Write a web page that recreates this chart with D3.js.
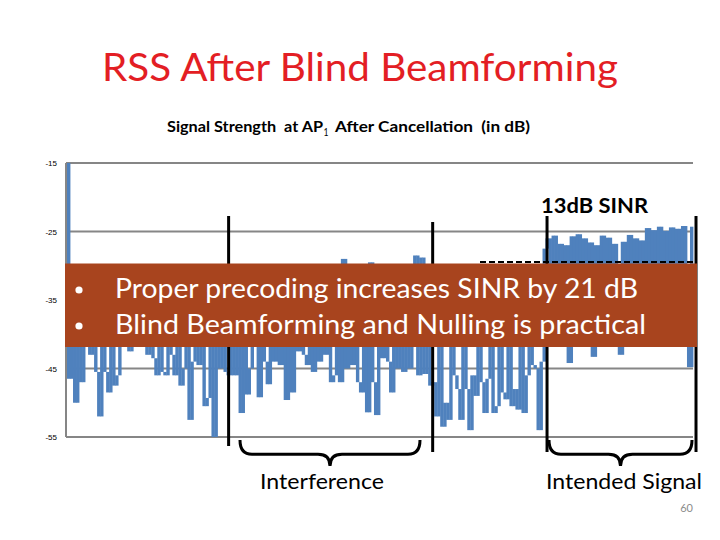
<!DOCTYPE html>
<html>
<head>
<meta charset="utf-8">
<script src="https://cdn.jsdelivr.net/npm/d3@7"></script>
<style>
  body { margin: 0; background: #fff; }
  svg { display: block; }
  text { white-space: pre; }
</style>
</head>
<body>
<script>
// y axis ticks (dB)
const yTicks = [-15, -25, -35, -45, -55];

// signal strength samples
const ssLead = [-15, -46.5, -38, -50, -39, -47, -38, -41, -43, -40.5,
  -45.5, -52, -40.5, -45.5, -48.5, -40.5, -47.5, -46, -38, -40,
  -37, -42.5, -38, -41, -37, -40.5, -38, -43, -40, -43.5,
  -46, -40.5, -45.5, -46, -40.5, -43, -46, -40.5, -47.5, -45,
  -40.5, -52.5, -44, -40.5, -44.5, -39, -50.5, -49.3, -40, -55,
  -40.5, -45, -40.5, -45.5];
const ssInterference = [-46, -40.5, -46, -40.5, -51.5, -41, -48.8, -45, -40, -41,
  -49.2, -40.5, -44, -47.3, -40.5, -44, -40, -44.5, -38, -49.6,
  -40.5, -48.5, -40, -42.5, -40, -43, -44.5, -40.5, -45.5, -40.5,
  -44, -40, -43, -40.5, -47, -46, -40.5, -47, -29, -45,
  -40.5, -44.5, -40, -47, -48.5, -40.5, -51.4, -29.5, -47, -51.8,
  -40.5, -43.5, -40, -44, -48.5, -40.5, -45, -40, -45.5, -40.5,
  -45, -40.5, -28.5, -46, -28.8, -45.8, -40.5, -47.5];
const ssGap = [-47, -52, -41.5, -53.5, -50, -52.5, -41.5, -46, -48, -52.5,
  -41.5, -48, -54, -46, -49, -41.5, -47, -51.5, -46.5, -41.5,
  -51.5, -50.5, -41.5, -48.5, -49.5, -41.5, -50.5, -48, -51, -41.5,
  -51.5, -46, -41.5, -44.5, -45, -54, -44, -27.5];
const ssIntended = [-26, -30.5, -25.6, -31, -26.8, -30.5, -27, -44.2, -25.7, -30.5,
  -25.4, -31, -26, -30.5, -26.6, -43.3, -27, -30.5, -25.6, -31,
  -25.9, -30.5, -26.8, -30.5, -43, -26.5, -31, -25.5, -30.5, -26,
  -30.5, -26.3, -31, -24.5, -30.5, -24.8, -30.5, -24.3, -31, -24.9,
  -30.5, -24.4, -30.5, -24.6, -31, -24.2, -30.5, -44.8, -24.3];

const signal = ssLead.concat(ssInterference, ssGap, ssIntended);

// section marker positions (sample index) and their annotations
const markerIdx = [53.7, 121.5, 159.5, 209];
const braceLabels = ["Interference", "Intended Signal"];

const w = 720;
const h = 540;

const svg = d3.select("body")
  .append("svg")
  .attr("width", w)
  .attr("height", h);

const x = d3.scaleLinear()
  .domain([0, signal.length - 1])
  .range([67, 693]);

const y = d3.scaleLinear()
  .domain([-55, -15])
  .range([437, 163]);

const calibri = "Lato, 'Open Sans', sans-serif";

// title
svg.append("text")
  .attr("x", 102).attr("y", 81)
  .attr("textLength", 516).attr("lengthAdjust", "spacingAndGlyphs")
  .style("font-family", calibri)
  .style("font-size", "39px")
  .style("fill", "#E31E24")
  .text("RSS After Blind Beamforming");

// chart subtitle, split so the subscript sits right
const subParts = [
  {t: "Signal Strength  at AP", x: 167, w: 156, size: 15.5, dy: 0, bold: true},
  {t: "1", x: 323.5, w: 5, size: 11, dy: 4, bold: false},
  {t: "After Cancellation  (in dB)", x: 335, w: 195, size: 15.5, dy: 0, bold: true}
];
subParts.forEach(function(p) {
  svg.append("text")
    .attr("x", p.x).attr("y", 132 + p.dy)
    .attr("textLength", p.w).attr("lengthAdjust", "spacingAndGlyphs")
    .style("font-family", calibri)
    .style("font-size", p.size + "px")
    .style("font-weight", p.bold ? "bold" : "normal")
    .text(p.t);
});

// gridlines
svg.append("g")
  .selectAll("line")
  .data(yTicks)
  .enter()
  .append("line")
  .attr("x1", 66).attr("x2", 693)
  .attr("y1", d => y(d)).attr("y2", d => y(d))
  .attr("stroke", "#868686")
  .attr("stroke-width", 2);

// y axis line
svg.append("line")
  .attr("x1", 66).attr("x2", 66)
  .attr("y1", y(-15)).attr("y2", y(-55))
  .attr("stroke", "#868686")
  .attr("stroke-width", 2);

// tick labels
svg.append("g")
  .selectAll("text")
  .data(yTicks)
  .enter()
  .append("text")
  .attr("x", 57)
  .attr("y", d => y(d) + 3)
  .attr("text-anchor", "end")
  .style("font-family", "'Liberation Sans', Arial, sans-serif")
  .style("font-size", "8px")
  .style("fill", "#000")
  .text(d => d);

// the trace is so dense in the original that each step fills the range
// between two neighbouring samples, so draw every segment as its own band
const segs = d3.pairs(signal).map((p, i) => ({i: i, hi: Math.max(p[0], p[1]), lo: Math.min(p[0], p[1])}));

svg.append("g")
  .selectAll("rect")
  .data(segs)
  .enter()
  .append("rect")
  .attr("x", d => x(d.i))
  .attr("width", d => x(d.i + 1) - x(d.i) + 0.4)
  .attr("y", d => y(d.hi))
  .attr("height", d => Math.max(1.5, y(d.lo) - y(d.hi)))
  .attr("fill", "#4F81BD");

// dashed level line (mostly under the box)
svg.append("line")
  .attr("x1", 480).attr("x2", 693)
  .attr("y1", 262).attr("y2", 262)
  .attr("stroke", "#000")
  .attr("stroke-width", 2)
  .attr("stroke-dasharray", "6,3");

// vertical section markers
const markerTop = [216, 222, 216, 216];
const markerBottom = [446, 452, 452, 452];
svg.append("g")
  .selectAll("line")
  .data(markerIdx)
  .enter()
  .append("line")
  .attr("x1", d => x(d)).attr("x2", d => x(d))
  .attr("y1", (d, i) => markerTop[i])
  .attr("y2", (d, i) => markerBottom[i])
  .attr("stroke", "#000")
  .attr("stroke-width", 3);

// 13dB SINR label
svg.append("text")
  .attr("x", 541).attr("y", 213)
  .attr("textLength", 107).attr("lengthAdjust", "spacingAndGlyphs")
  .style("font-family", calibri)
  .style("font-size", "20px")
  .style("font-weight", "bold")
  .text("13dB SINR");

// text box
svg.append("rect")
  .attr("x", 65).attr("y", 263.5)
  .attr("width", 632).attr("height", 83.5)
  .attr("fill", "#A8441E");

const bullets = [
  "Proper precoding increases SINR by 21 dB",
  "Blind Beamforming and Nulling is practical"
];
const bulletWidths = [523, 531];
bullets.forEach(function(t, i) {
  svg.append("circle")
    .attr("cx", 79).attr("cy", 290 + i * 36)
    .attr("r", 3.6)
    .attr("fill", "#fff");
  svg.append("text")
    .attr("x", 115).attr("y", 298 + i * 36)
    .attr("textLength", bulletWidths[i]).attr("lengthAdjust", "spacingAndGlyphs")
    .style("font-family", calibri)
    .style("font-size", "27px")
    .style("fill", "#fff")
    .text(t);
});

// braces under the sections
function brace(x0, x1, top, depth) {
  const mid = (x0 + x1) / 2;
  const q = depth * 0.55;
  return "M" + x0 + "," + top +
    " Q" + x0 + "," + (top + q) + " " + (x0 + 12) + "," + (top + q) +
    " L" + (mid - 12) + "," + (top + q) +
    " Q" + mid + "," + (top + q) + " " + mid + "," + (top + depth) +
    " Q" + mid + "," + (top + q) + " " + (mid + 12) + "," + (top + q) +
    " L" + (x1 - 12) + "," + (top + q) +
    " Q" + x1 + "," + (top + q) + " " + x1 + "," + top;
}
const braceSpans = [[240, 420], [549, 692]];
svg.append("g")
  .selectAll("path")
  .data(braceSpans)
  .enter()
  .append("path")
  .attr("d", d => brace(d[0], d[1], 440, 26))
  .attr("fill", "none")
  .attr("stroke", "#000")
  .attr("stroke-width", 3);

const labelX = [322, 624];
const labelW = [124, 156];
braceLabels.forEach(function(t, i) {
  svg.append("text")
    .attr("x", labelX[i] - labelW[i] / 2).attr("y", 489)
    .attr("textLength", labelW[i]).attr("lengthAdjust", "spacingAndGlyphs")
    .style("font-family", calibri)
    .style("font-size", "21px")
    .style("fill", "#000")
    .text(t);
});

// slide number
svg.append("text")
  .attr("x", 693).attr("y", 512)
  .attr("text-anchor", "end")
  .style("font-family", calibri)
  .style("font-size", "11px")
  .style("fill", "#8c8c8c")
  .text("60");
</script>
</body>
</html>
